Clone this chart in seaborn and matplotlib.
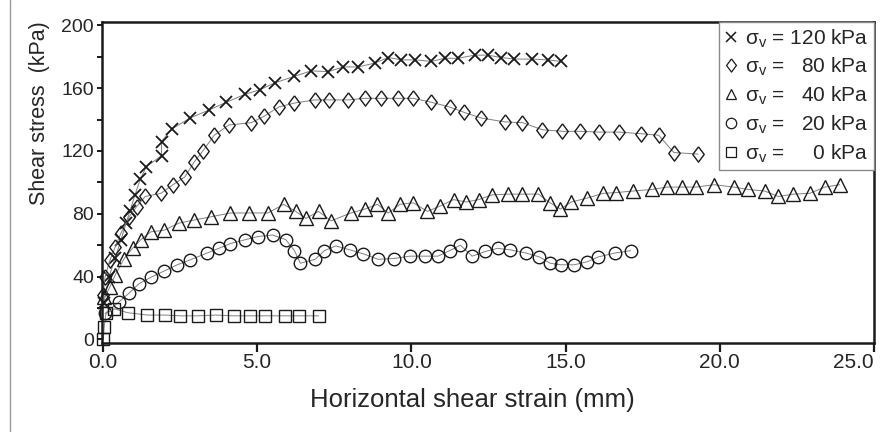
import matplotlib
matplotlib.use("Agg")
import matplotlib.pyplot as plt
from matplotlib.lines import Line2D
from matplotlib.ticker import MultipleLocator
import seaborn as sns

# data
s120_x = [0.03, 0.2, 0.4, 0.58, 0.75, 0.88, 1.04, 1.21, 1.41, 1.9, 1.9, 2.23, 2.83, 3.43, 4.0, 4.6, 5.09, 5.59,
          6.21, 6.75, 7.31, 7.79, 8.28, 8.82, 9.25, 9.68, 10.13, 10.65, 11.08, 11.51, 12.05, 12.48, 12.91,
          13.34, 13.9, 14.42, 14.85]
s120_y = [23, 40, 52, 63, 74, 82, 92, 102, 110, 117, 126, 134, 141, 146, 151, 156, 159, 163.5,
          167.5, 171, 170.5, 173.5, 173.5, 176, 179.5, 178, 178, 177, 179, 179, 181, 181, 179.5,
          178.5, 178.5, 178, 177]

s80_x = [0.0, 0.07, 0.23, 0.4, 0.58, 0.85, 1.09, 1.37, 1.88, 2.27, 2.66, 2.96, 3.24, 3.61, 4.08, 4.81, 5.22,
         5.7, 6.21, 6.86, 7.33, 7.96, 8.49, 9.01, 9.57, 10.06, 10.65, 11.24, 11.72, 12.26, 13.02, 13.6,
         14.25, 14.9, 15.46, 16.09, 16.73, 17.43, 18.02, 18.51, 19.29]
s80_y = [28, 40, 50.5, 59, 67.5, 78, 84.5, 91, 93, 98.5, 103.5, 113, 120, 130, 136.5, 138, 142,
         148, 150.5, 152.5, 152.5, 152.5, 153.5, 153.5, 153.5, 153.5, 151, 148, 144.5, 141, 138.5, 138,
         133.5, 132.5, 132.5, 132, 132, 131, 130, 119, 118]

s40_x = [0.05, 0.23, 0.4, 0.69, 0.96, 1.23, 1.55, 1.98, 2.46, 2.95, 3.49, 4.13, 4.73, 5.35, 5.86, 6.25,
         6.58, 6.99, 7.4, 8.04, 8.49, 8.9, 9.25, 9.63, 10.06, 10.52, 10.94, 11.37, 11.78, 12.18, 12.61,
         13.12, 13.58, 14.12, 14.5, 14.83, 15.19, 15.7, 16.22, 16.65, 17.19, 17.81, 18.29, 18.78, 19.23,
         19.82, 20.45, 20.91, 21.45, 21.9, 22.38, 22.92, 23.41, 23.89]
s40_y = [27, 33.5, 41, 51.5, 58, 63.5, 68.5, 69.5, 74, 76, 78, 80.5, 80.5, 80.5, 86, 81.5,
         77, 81.5, 75.5, 80.5, 83, 86, 80.5, 86, 87, 81.5, 85, 89, 87.5, 89, 92,
         92.5, 92.5, 92.5, 87, 83, 87.5, 90, 93, 93.5, 94.5, 95.5, 97, 97, 97,
         98.5, 97, 95.5, 94.5, 91, 92.5, 93, 97, 98.5]

s20_x = [0.07, 0.53, 0.85, 1.17, 1.55, 1.98, 2.41, 2.81, 3.38, 3.76, 4.13, 4.62, 5.03, 5.5, 5.93, 6.21,
         6.4, 6.88, 7.18, 7.55, 8.01, 8.44, 8.92, 9.44, 9.95, 10.43, 10.86, 11.24, 11.59, 11.97, 12.4,
         12.8, 13.21, 13.72, 14.15, 14.5, 14.85, 15.28, 15.71, 16.06, 16.6, 17.11]
s20_y = [16.5, 24, 29.5, 35.5, 39.5, 43.5, 47.5, 50.5, 55, 58, 61, 63.5, 65.5, 66.5, 63.5, 56.5,
         48.5, 51, 56.5, 59.5, 57, 54.5, 51, 51.5, 53, 53, 53, 56.5, 60, 53, 56,
         58, 57, 55, 52.5, 48.5, 47.5, 47.5, 49.5, 52.5, 55, 56.5]

s0_x = [0.01, 0.04, 0.1, 0.37, 0.8, 1.44, 2.0, 2.5, 3.08, 3.65, 4.24, 4.78, 5.26, 5.91, 6.37, 6.99]
s0_y = [0, 8, 16.5, 19.5, 17, 15.5, 15.5, 15, 15, 15.5, 15, 15, 15, 15, 15, 15]

xticks = [0, 5, 10, 15, 20, 25]
xtick_labels = ['0.0', '5.0', '10.0', '15.0', '20.0', '25.0']
yticks = [0, 40, 80, 120, 160, 200]

# one digit is as wide as two spaces in Liberation Sans
labels = [r'σ$_\mathregular{v}$ = 120 kPa',
          r'σ$_\mathregular{v}$ =   80 kPa',
          r'σ$_\mathregular{v}$ =   40 kPa',
          r'σ$_\mathregular{v}$ =   20 kPa',
          r'σ$_\mathregular{v}$ =     0 kPa']

diamond = [(0, 1), (0.75, 0), (0, -1), (-0.75, 0), (0, 1)]

sns.set_style('ticks')
plt.rcParams['font.family'] = ['Liberation Sans', 'DejaVu Sans']
plt.rcParams['mathtext.fontset'] = 'custom'
plt.rcParams['mathtext.rm'] = 'Liberation Sans'

fig = plt.figure(figsize=(8.82, 4.32), dpi=100)
ax = fig.add_axes([102 / 882, 1 - 343 / 432, 772 / 882, 321.3 / 432])

series = [
    (s120_x, s120_y, 'x', 9, 1.3),
    (s80_x, s80_y, diamond, 11, 1.0),
    (s40_x, s40_y, '^', 9.5, 1.0),
    (s20_x, s20_y, 'o', 9, 1.0),
    (s0_x, s0_y, 's', 8.3, 1.0),
]
for xs, ys, mk, ms, mew in series:
    sns.lineplot(x=xs, y=ys, sort=False, estimator=None, ax=ax, color='#808080', lw=0.7,
                 marker=mk, markersize=ms, markeredgewidth=mew, markeredgecolor='#1a1a1a',
                 markerfacecolor='none')
for ln in ax.lines:
    ln.set_clip_on(False)

ax.set_xlim(-0.03, 25)
ax.set_ylim(-2.3, 202.3)
ax.set_xticks(xticks, xtick_labels)
ax.set_yticks(yticks)
ax.yaxis.set_minor_locator(MultipleLocator(20))

for sp in ax.spines.values():
    sp.set_visible(True)
    sp.set_linewidth(1.8)
    sp.set_color('#1a1a1a')
ax.tick_params(axis='x', which='major', direction='out', length=6.5, width=1.6, pad=1,
               labelsize=15, color='#1a1a1a')
ax.tick_params(axis='y', which='both', direction='out', length=3.8, width=1.4, pad=2,
               labelsize=14, color='#1a1a1a')
ax.get_xticklabels()[-1].set_horizontalalignment('right')

ax.set_xlabel('Horizontal shear strain (mm)', fontsize=18.5)
ax.set_ylabel('Shear stress  (kPa)', fontsize=15.5)
ax.xaxis.set_label_coords(0.48, -0.14)
ax.yaxis.set_label_coords(-0.068, 0.716)

handles = [
    Line2D([], [], ls='none', marker='x', ms=7.5, mew=1.1, mec='#1a1a1a'),
    Line2D([], [], ls='none', marker=diamond, ms=9.5, mew=0.9, mec='#1a1a1a', mfc='none'),
    Line2D([], [], ls='none', marker='^', ms=7.5, mew=0.9, mec='#1a1a1a', mfc='none'),
    Line2D([], [], ls='none', marker='o', ms=7.5, mew=0.9, mec='#1a1a1a', mfc='none'),
    Line2D([], [], ls='none', marker='s', ms=7.5, mew=0.9, mec='#1a1a1a', mfc='none'),
]
leg = ax.legend(handles, labels, loc='upper right', borderaxespad=0, fontsize=15,
                frameon=True, fancybox=False, handlelength=0.6, handletextpad=0.4,
                labelspacing=0.3, borderpad=0.25)
leg.get_frame().set_edgecolor('#8a8a8a')
leg.get_frame().set_linewidth(1.0)
leg.get_frame().set_alpha(1)

fig.add_artist(Line2D([10 / 882, 10 / 882], [0, 1], transform=fig.transFigure, color='#9a9a9a', lw=1))

fig.savefig('out.png', dpi=100)
